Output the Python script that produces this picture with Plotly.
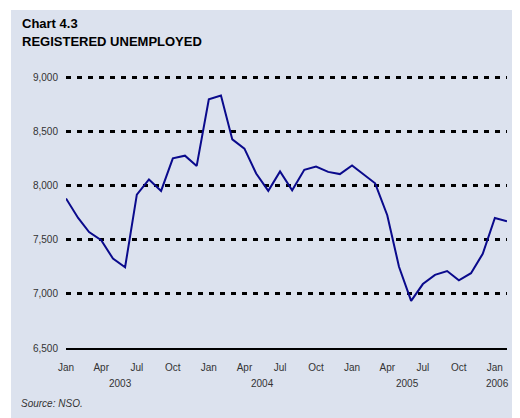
import plotly.graph_objects as go

# Registered unemployed, monthly, Jan 2003 - Feb 2006
months = [
    "2003-01", "2003-02", "2003-03", "2003-04", "2003-05", "2003-06",
    "2003-07", "2003-08", "2003-09", "2003-10", "2003-11", "2003-12",
    "2004-01", "2004-02", "2004-03", "2004-04", "2004-05", "2004-06",
    "2004-07", "2004-08", "2004-09", "2004-10", "2004-11", "2004-12",
    "2005-01", "2005-02", "2005-03", "2005-04", "2005-05", "2005-06",
    "2005-07", "2005-08", "2005-09", "2005-10", "2005-11", "2005-12",
    "2006-01", "2006-02",
]
unemployed = [
    7880, 7700, 7570, 7495, 7325, 7245, 7915, 8055, 7950, 8250, 8275, 8180,
    8795, 8830, 8425, 8340, 8110, 7950, 8130, 7955, 8145, 8175, 8125, 8105,
    8185, 8100, 8020, 7725, 7250, 6935, 7090, 7175, 7210, 7125, 7190, 7370,
    7700, 7670,
]

tick_months = months[::3]
tick_labels = ["Jan", "Apr", "Jul", "Oct"] * 3 + ["Jan"]
y_ticks = [6500, 7000, 7500, 8000, 8500, 9000]
y_labels = ["6,500", "7,000", "7,500", "8,000", "8,500", "9,000"]
year_labels = ["2003", "2004", "2005", "2006"]
year_pos = ["2003-05-20", "2004-05-18", "2005-05-22", "2006-01-07"]

BG = "#dce2ee"
FONT = "Arial, 'Liberation Sans', Helvetica, sans-serif"

# the page body adds an 8px margin, so everything is laid out 8px up/left
OFF = 8
W, H = 520, 418
ML, MT = 66 - OFF, 76 - OFF
MR, MB = W - (507 - OFF), H - (348 - OFF)
PW, PH = W - ML - MR, H - MT - MB


def px_x(x):
    # screen pixel -> paper fraction
    return (x - OFF - ML) / PW


def px_y(y):
    return (H - MB - (y - OFF)) / PH


fig = go.Figure()
fig.add_trace(go.Scatter(
    x=months, y=unemployed, mode="lines",
    line=dict(color="#0a0a8c", width=2),
    hoverinfo="skip",
))

fig.update_layout(
    width=W, height=H,
    margin=dict(l=ML, r=MR, t=MT, b=MB),
    paper_bgcolor=BG, plot_bgcolor=BG,
    showlegend=False,
    font=dict(family=FONT, size=10, color="#333"),
    xaxis=dict(
        range=[months[0], months[-1]],
        tickvals=tick_months, ticktext=tick_labels,
        showgrid=False, zeroline=False,
        showline=True, linecolor="#000", linewidth=2,
        ticks="", ticklabelstandoff=9,
        tickfont=dict(size=10, color="#333"),
    ),
    yaxis=dict(
        range=[6500, 9010],
        tickvals=y_ticks, ticktext=y_labels,
        showgrid=True, gridcolor="#000", gridwidth=3, griddash="5px,6px",
        zeroline=False, showline=False,
        ticks="", ticklabelstandoff=7,
        tickfont=dict(size=10, color="#333"),
    ),
)

# white strips at top and left of the panel
fig.add_shape(type="rect", xref="paper", yref="paper", layer="below",
              x0=px_x(-20), x1=px_x(11), y0=px_y(H + 20), y1=px_y(-20),
              fillcolor="white", line_width=0)
fig.add_shape(type="rect", xref="paper", yref="paper", layer="below",
              x0=px_x(-20), x1=px_x(W + 20), y0=px_y(10), y1=px_y(-20),
              fillcolor="white", line_width=0)

fig.add_annotation(text="<b>Chart 4.3</b>", xref="paper", yref="paper",
                   x=px_x(20), y=px_y(23), xanchor="left", yanchor="middle",
                   showarrow=False, font=dict(size=13, color="#000"))
fig.add_annotation(text="<b>REGISTERED UNEMPLOYED</b>", xref="paper", yref="paper",
                   x=px_x(20), y=px_y(41), xanchor="left", yanchor="middle",
                   showarrow=False, font=dict(size=13, color="#000"))

for label, pos in zip(year_labels, year_pos):
    fig.add_annotation(text=label, xref="x", yref="paper",
                       x=pos, y=px_y(383), xanchor="center", yanchor="middle",
                       showarrow=False, font=dict(size=10, color="#333"))

fig.add_annotation(text="<i>Source: NSO.</i>", xref="paper", yref="paper",
                   x=px_x(19), y=px_y(403), xanchor="left", yanchor="middle",
                   showarrow=False, font=dict(size=10, color="#333"))

fig.write_html("out.html")
